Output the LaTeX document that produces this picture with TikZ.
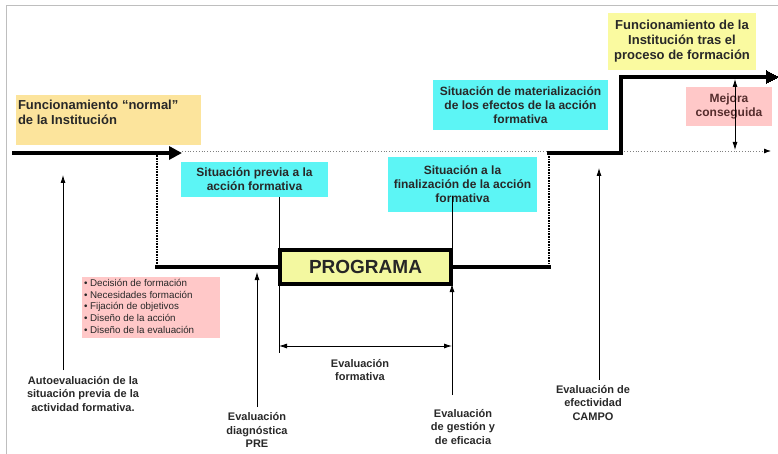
\documentclass[tikz,border=0pt]{standalone}
\usepackage{fontspec}
\setmainfont{Liberation Sans}
\usetikzlibrary{arrows.meta,calc}
\definecolor{cyanfill}{RGB}{92,245,245}
\definecolor{orangefill}{RGB}{252,228,156}
\definecolor{yellowfill}{RGB}{250,250,160}
\definecolor{progfill}{RGB}{243,248,160}
\definecolor{pinkfill}{RGB}{255,200,200}
\definecolor{txt}{RGB}{40,40,40}
\definecolor{mejtxt}{RGB}{85,45,45}
\definecolor{framecol}{RGB}{190,190,190}
\begin{document}
\begin{tikzpicture}[x=1pt,y=-1pt,
  every node/.style={inner sep=0pt, outer sep=0pt},
  box/.style={rectangle},
  ttl/.style={font=\fontsize{12}{14}\selectfont\bfseries, text=txt, align=center},
  ttlbig/.style={font=\fontsize{13}{15}\selectfont\bfseries, text=txt, align=center},
  lbl/.style={font=\fontsize{11}{13.5}\selectfont\bfseries, text=txt, align=center},
  mainline/.style={line width=4.5pt, line cap=butt},
  dotline/.style={line width=2.5pt, dash pattern=on 0.8pt off 0.8pt},
  thin/.style={line width=0.8pt},
  tip/.style={-{Latex[length=8pt,width=5pt]}},
  bigtip/.style={-{Triangle[length=13pt,width=13pt]}}
]
\useasboundingbox (0,0) rectangle (778,454);
% frame
\draw[framecol, line width=1pt] (6,454) -- (6,6) -- (778,6);

% boxes
\node[box, fill=orangefill, minimum width=185pt, minimum height=50pt] (normal) at (108.5,120) {};
\node[ttlbig, anchor=north west, align=left] (normaltxt) at ($(normal.north west)+(2,5)$) {Funcionamiento “normal”\\de la Institución};

\node[box, fill=yellowfill, minimum width=148pt, minimum height=57pt, ttlbig] (tras) at (682,41.5) {Funcionamiento de la\\Institución tras el\\proceso de formación};

\node[box, fill=cyanfill, minimum width=175pt, minimum height=50pt, ttl] (mat) at (520.5,105) {Situación de materialización\\de los efectos de la acción\\formativa};

\node[box, fill=pinkfill, minimum width=86pt, minimum height=39pt, font=\fontsize{12}{14}\selectfont\bfseries, text=mejtxt, align=center] (mejora) at (729,106.5) {Mejora\\conseguida};

\node[box, fill=cyanfill, minimum width=147pt, minimum height=35pt, ttl] (previa) at (254.5,179.5) {Situación previa a la\\acción formativa};

\node[box, fill=cyanfill, minimum width=149pt, minimum height=55pt, ttl] (final) at (462.5,184.5) {Situación a la\\finalización de la acción\\formativa};

\node[box, fill=pinkfill, minimum width=138pt, minimum height=61pt] (lista) at (151,307.5) {};
\node[anchor=north west, align=left, font=\fontsize{9.8}{11.8}\selectfont, text=txt] (listatxt) at ($(lista.north west)+(2,2)$)
  {• Decisión de formación\\• Necesidades formación\\• Fijación de objetivos\\• Diseño de la acción\\• Diseño de la evaluación};

% coordinates of the main process line
\coordinate (s0) at (12,153);
\coordinate (s1) at (182,153);
\coordinate (d0) at (157,153);
\coordinate (d1) at (157,267);
\coordinate (e0) at (549,267);
\coordinate (e1) at (549,153);
\coordinate (u0) at (621,153);
\coordinate (u1) at (621,77);
\coordinate (u2) at (778,77);
\coordinate (g0) at (182,151);
\coordinate (g1) at (771,151);

% vertical helper lines through program
\draw[thin] (previa.south -| 279,0) -- (279,353);
\draw[thin] (452,196) -- (452,248);

% program box
\node[draw, line width=4pt, fill=progfill, minimum width=171pt, minimum height=34pt, font=\fontsize{19}{22}\selectfont\bfseries, text=black!85] (prog) at (365.5,267) {PROGRAMA};

% gray baseline
\draw[gray, line width=0.8pt, dotted, -{Latex[length=7pt,width=5pt,color=black,fill=black]}] (g0) -- (g1);

% main line
\draw[mainline, bigtip] (s0) -- (s1);
\draw[dotline] (d0) -- (d1);
\draw[mainline] (155,267) -- (prog.west);
\draw[mainline] (prog.east) -- (551,267);
\draw[dotline] (e0) -- (e1);
\draw[mainline] (547,153) -- (u0) -- (u1) -- ($(u2)+(-12,0)$);
\draw[line width=0pt, fill=black] (u2) -- ++(-12,-6.5) -- ++(0,13) -- cycle;

% mejora double arrow
\draw[thin, {Latex[length=8pt,width=5pt]}-{Latex[length=8pt,width=5pt]}] (735,79) -- (735,150);

% evaluation arrows and labels
\node[lbl] (auto) at (83,394) {Autoevaluación de la\\situación previa de la\\actividad formativa.};
\draw[thin, tip] (63,370) -- (63,175);

\node[lbl] (pre) at (257,430) {Evaluación\\diagnóstica\\PRE};
\draw[thin, tip] (257,407) -- (257,272);

\node[lbl] (form) at (360,370) {Evaluación\\formativa};
\draw[thin, {Latex[length=8pt,width=5pt]}-{Latex[length=8pt,width=5pt]}] (279,346) -- (452,346);

\node[lbl] (gest) at (463,427) {Evaluación\\de gestión y\\de eficacia};
\draw[thin, tip] (452,395) -- (prog.south -| 452,0);

\node[lbl] (campo) at (593,403) {Evaluación de\\efectividad\\CAMPO};
\draw[thin, tip] (599,380) -- (599,168);
\end{tikzpicture}
\end{document}
